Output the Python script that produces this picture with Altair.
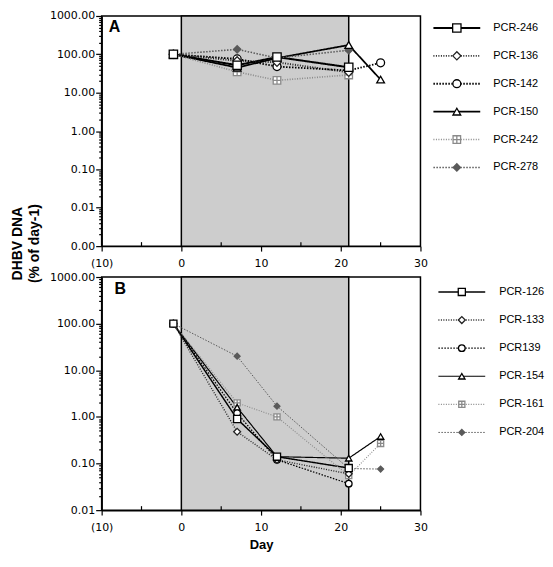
import altair as alt
import pandas as pd
import math

# ---------------- data ----------------
days = [-1, 7, 12, 21, 25]

series_a = ["PCR-246", "PCR-136", "PCR-142", "PCR-150", "PCR-242", "PCR-278"]
pcr_246 = [100, 52, 85, 46, None]
pcr_136 = [100, 68, 62, 34, None]
pcr_142 = [100, 76, 48, 38, 60]
pcr_150 = [100, 45, 80, 175, 22]
pcr_242 = [100, 35, 21, 29, None]
pcr_278 = [100, 135, 80, 128, None]

series_b = ["PCR-126", "PCR-133", "PCR139", "PCR-154", "PCR-161", "PCR-204"]
pcr_126 = [100, 0.9, 0.14, 0.08, None]
pcr_133 = [100, 0.48, 0.12, 0.06, None]
pcr_139 = [100, 1.2, 0.12, 0.037, None]
pcr_154 = [100, 1.6, 0.14, 0.13, 0.38]
pcr_161 = [100, 2.0, 1.0, 0.055, 0.27]
pcr_204 = [100, 20, 1.7, 0.078, 0.076]

treatment = [0, 21]
x_ticks = [-10, 0, 10, 20, 30]
x_minor = [-5, 5, 15, 25]

# ---------------- styles ----------------
BOXCROSS = "M-1,-1H1V1H-1Z M-1,0H1 M0,-1V1"
colors = ["black", "#222222", "black", "black", "#8a8a8a", "#5a5a5a"]
fills = ["white", "white", "white", "white", "white", "#5a5a5a"]
dashes = [[1, 0], [1, 1.5], [1.5, 1.5], [1, 0], [1, 1.5], [1.5, 1.5]]
widths = [2, 1, 1, 2, 1, 1.2]
shapes = ["square", "diamond", "circle", "triangle-up", BOXCROSS, "diamond"]
sizes = [70, 35, 55, 60, 55, 40]

FONT = "Liberation Sans"
DECADE = "abs(log(datum.value)/LN10 - round(log(datum.value)/LN10)) < 0.001"


def build_panel(series, cols, ymin, H, letter, lpos, show_title, leg_x, leg_range):
    rows = [{"series": s, "idx": i, "day": d, "value": v}
            for i, (s, vals) in enumerate(zip(series, cols))
            for d, v in zip(days, vals) if v is not None]
    df = pd.DataFrame(rows)
    df_rev = df.sort_values("idx", ascending=False).reset_index(drop=True)
    shade_df = pd.DataFrame({"start": [treatment[0]], "end": [treatment[1]]})
    minor_df = pd.DataFrame({"d": x_minor})

    dmin = round(math.log10(ymin))
    yt = [float(f"{k}e{d}") for d in range(dmin, 3) for k in range(1, 10)] + [1000.0]

    xscale = alt.Scale(domain=[-10, 30], nice=False, zero=False)
    yscale = alt.Scale(type="log", domain=[ymin, 1000], nice=False)

    xaxis = alt.Axis(
        values=x_ticks, title="Day" if not show_title else None,
        labelExpr="datum.value < 0 ? '(' + abs(datum.value) + ')' : '' + datum.value",
        tickSize=5, labelPadding=6, labelFlush=False, grid=False,
        titleFont=FONT, titleFontWeight="bold", titleFontSize=13, titlePadding=6,
    )
    yaxis = alt.Axis(
        values=yt, title=["DHBV DNA", "(% of day-1)"],
        titleX=-84, titleY=228, titleAlign="center", titleBaseline="middle", titleAngle=270,
        titleFont=FONT, titleFontWeight="bold", titleFontSize=14, titleLineHeight=17,
        titleOpacity=1 if show_title else 0,
        labelExpr=f"{DECADE} ? format(datum.value, '.2f') : ''",
        tickSize={"condition": {"test": DECADE, "value": 6}, "value": 3},
        labelPadding=1, labelOverlap=False, labelFlush=False, grid=False,
    )

    stroke = alt.Stroke("series:N", scale=alt.Scale(domain=series, range=colors), legend=None)
    dash = alt.StrokeDash("series:N", scale=alt.Scale(domain=series, range=dashes), legend=None)
    sw = alt.StrokeWidth("series:N", scale=alt.Scale(domain=series, range=widths), legend=None)
    shape = alt.Shape("series:N", scale=alt.Scale(domain=series, range=shapes), legend=None)
    fill = alt.Fill("series:N", scale=alt.Scale(domain=series, range=fills), legend=None)
    size = alt.Size("series:N", scale=alt.Scale(domain=series, range=sizes), legend=None)

    shade = alt.Chart(shade_df).mark_rect(fill="#cdcdcd", stroke="black", strokeWidth=1.5).encode(
        x=alt.X("start:Q", scale=xscale, axis=xaxis), x2="end:Q",
        y=alt.value(0), y2=alt.value(H),
    )
    minor = alt.Chart(minor_df).mark_rule(color="black", strokeWidth=1.2).encode(
        x=alt.X("d:Q", scale=xscale, axis=xaxis), y=alt.value(H - 4), y2=alt.value(H)
    )
    lines = alt.Chart(df).mark_line().encode(
        x=alt.X("day:Q", scale=xscale, axis=xaxis),
        y=alt.Y("value:Q", scale=yscale, axis=yaxis),
        stroke=stroke, strokeDash=dash, strokeWidth=sw, order="day:Q",
    )
    points = alt.Chart(df_rev).mark_point(filled=True, opacity=1, strokeWidth=1.3).encode(
        x=alt.X("day:Q", scale=xscale, axis=xaxis),
        y=alt.Y("value:Q", scale=yscale, axis=yaxis),
        shape=shape, fill=fill, stroke=stroke, size=size,
    )
    lab = alt.Chart(pd.DataFrame({"t": [letter]})).mark_text(
        align="left", baseline="top", fontSize=16, fontWeight="bold", font=FONT
    ).encode(x=alt.value(lpos[0]), y=alt.value(lpos[1]), text="t:N")

    inner = alt.layer(shade, minor, lines, points, lab)

    # legend drawn to the right of the plot area
    leg_df = pd.DataFrame({"series": series})
    yl = alt.Y("series:N", sort=series,
               scale=alt.Scale(type="point", domain=series, range=leg_range, padding=0), axis=None)
    lb = alt.Chart(leg_df)
    rule = lb.mark_rule().encode(
        x=alt.value(leg_x[0]), x2=alt.value(leg_x[1]), y=yl, stroke=stroke, strokeDash=dash, strokeWidth=sw
    )
    pt = lb.mark_point(filled=True, opacity=1, strokeWidth=1.3).encode(
        x=alt.value((leg_x[0] + leg_x[1]) / 2), y=yl, shape=shape, fill=fill, stroke=stroke, size=size
    )
    tx = lb.mark_text(align="left", baseline="middle", fontSize=11, font=FONT).encode(
        x=alt.value(leg_x[2]), y=yl, text="series:N"
    )
    legend = alt.layer(rule, pt, tx)

    return alt.layer(inner, legend).resolve_scale(y="independent").properties(
        width=320, height=H, view=alt.ViewBackground(stroke="black", strokeWidth=1.5)
    )


panel_a = build_panel(series_a, [pcr_246, pcr_136, pcr_142, pcr_150, pcr_242, pcr_278],
                      0.001, 231, "A", (7, 3), True, (333, 380, 393), [12, 152])
panel_b = build_panel(series_b, [pcr_126, pcr_133, pcr_139, pcr_154, pcr_161, pcr_204],
                      0.01, 234, "B", (13, 4), False, (338, 385, 399), [15, 156])

chart = alt.vconcat(panel_a, panel_b, spacing=31, bounds="flush").properties(
    padding={"left": 2, "top": 0, "right": 0, "bottom": 0}
).configure_view(stroke=None).configure_axis(
    labelFont="DejaVu Sans", labelFontSize=11, labelColor="black",
    domainColor="black", domainWidth=1.5, tickColor="black", tickWidth=1.2,
)

chart.save("out.html", embed_options={"renderer": "svg", "actions": False})
